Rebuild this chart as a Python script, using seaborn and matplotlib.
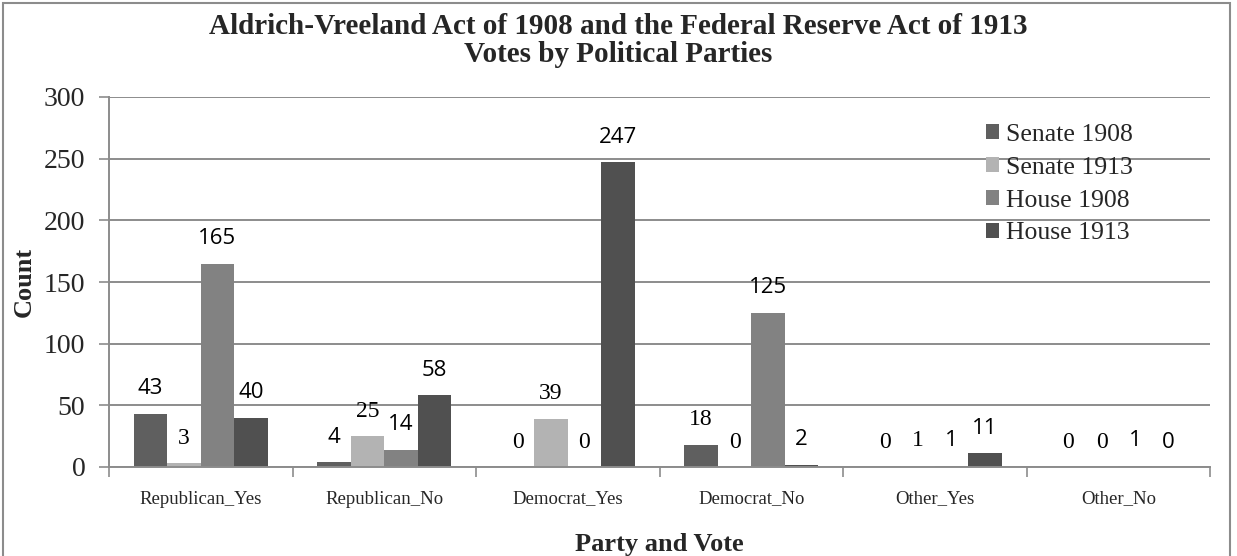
import numpy as np
import pandas as pd
import matplotlib
matplotlib.use("Agg")
import matplotlib.pyplot as plt
from matplotlib.patches import Rectangle
import seaborn as sns

# Vote counts by party/vote and chamber-year
categories = ["Republican_Yes", "Republican_No", "Democrat_Yes",
              "Democrat_No", "Other_Yes", "Other_No"]
series = ["Senate 1908", "Senate 1913", "House 1908", "House 1913"]
senate_1908 = [43, 4, 0, 18, 0, 0]
senate_1913 = [3, 25, 39, 0, 1, 0]
house_1908 = [165, 14, 0, 125, 1, 1]
house_1913 = [40, 58, 247, 2, 11, 0]
y_ticks = [0, 50, 100, 150, 200, 250, 300]

# Typeface of each value label ("s" = sans, "r" = serif), per series
label_faces = [
    ["s", "s", "r", "r", "r", "r"],
    ["r", "r", "r", "r", "r", "r"],
    ["s", "s", "r", "s", "s", "s"],
    ["s", "s", "s", "s", "s", "s"],
]

colors = ["#5f5f5f", "#b3b3b3", "#828282", "#505050"]

df = pd.DataFrame({
    "category": np.tile(categories, 4),
    "series": np.repeat(series, len(categories)),
    "count": senate_1908 + senate_1913 + house_1908 + house_1913,
})

sns.set_theme(style="white")
plt.rcParams["font.family"] = ["Liberation Serif", "DejaVu Serif"]

fig = plt.figure(figsize=(12.37, 5.56), dpi=100)
ax = fig.add_axes([109 / 1237, 1 - 467 / 556, (1210 - 109) / 1237, 370 / 556])

sns.barplot(data=df, x="category", y="count", hue="series", order=categories,
            hue_order=series, palette=colors, width=0.73, saturation=1,
            edgecolor="none", linewidth=0, ax=ax, legend=True)

ax.set_ylim(0, 300)
ax.set_xlim(-0.5, len(categories) - 0.5)
ax.set_yticks(y_ticks)
ax.set_yticklabels([str(v) for v in y_ticks], fontsize=20)
ax.yaxis.grid(True, color="#8c8c8c", linewidth=1.4)
ax.set_axisbelow(True)

# category boundaries as tick marks
ax.set_xticks(np.arange(-0.5, len(categories)), minor=True)
ax.tick_params(axis="x", which="minor", length=7, width=1.2, color="#8c8c8c",
               direction="out", bottom=True)
ax.tick_params(axis="x", which="major", length=0, pad=17, labelsize=13.5)
ax.tick_params(axis="y", length=7, width=1.2, color="#8c8c8c",
               direction="out", left=True, pad=10)

for side in ["top", "right"]:
    ax.spines[side].set_visible(False)
for side in ["left", "bottom"]:
    ax.spines[side].set_color("#8c8c8c")
    ax.spines[side].set_linewidth(1.4)

# value labels above each bar
values = [senate_1908, senate_1913, house_1908, house_1913]
for i, cont in enumerate(ax.containers):
    for j, bar in enumerate(cont):
        val = values[i][j]
        face = label_faces[i][j]
        fam = ["Open Sans", "DejaVu Sans"] if face == "s" else ["Liberation Serif"]
        ax.annotate(str(val), (bar.get_x() + bar.get_width() / 2, bar.get_height()),
                    xytext=(0, 18), textcoords="offset points",
                    ha="center", va="center", fontsize=16 if face == "s" else 17,
                    family=fam, color="black")

ax.set_ylabel("Count", fontsize=19, fontweight="bold", labelpad=6)
ax.set_xlabel("Party and Vote", fontsize=19, fontweight="bold", labelpad=18)

leg = ax.legend(loc="upper left", bbox_to_anchor=(0.787, 0.955), frameon=False,
                fontsize=18.5, handlelength=0.5, handleheight=0.5,
                handletextpad=0.3, labelspacing=0.42, borderaxespad=0)

fig.text(0.5, 1 - 26 / 556, "Aldrich-Vreeland Act of 1908 and the Federal Reserve Act of 1913",
         ha="center", va="center", fontsize=21, fontweight="bold")
fig.text(0.5, 1 - 55 / 556, "Votes by Political Parties",
         ha="center", va="center", fontsize=21, fontweight="bold")

# chart frame
fig.patches.append(Rectangle((3 / 1237, -0.02), 1227 / 1237, 1.02 - 3 / 556,
                             transform=fig.transFigure, fill=False,
                             edgecolor="#8c8c8c", linewidth=1.5))

fig.savefig("out.png", dpi=100)
